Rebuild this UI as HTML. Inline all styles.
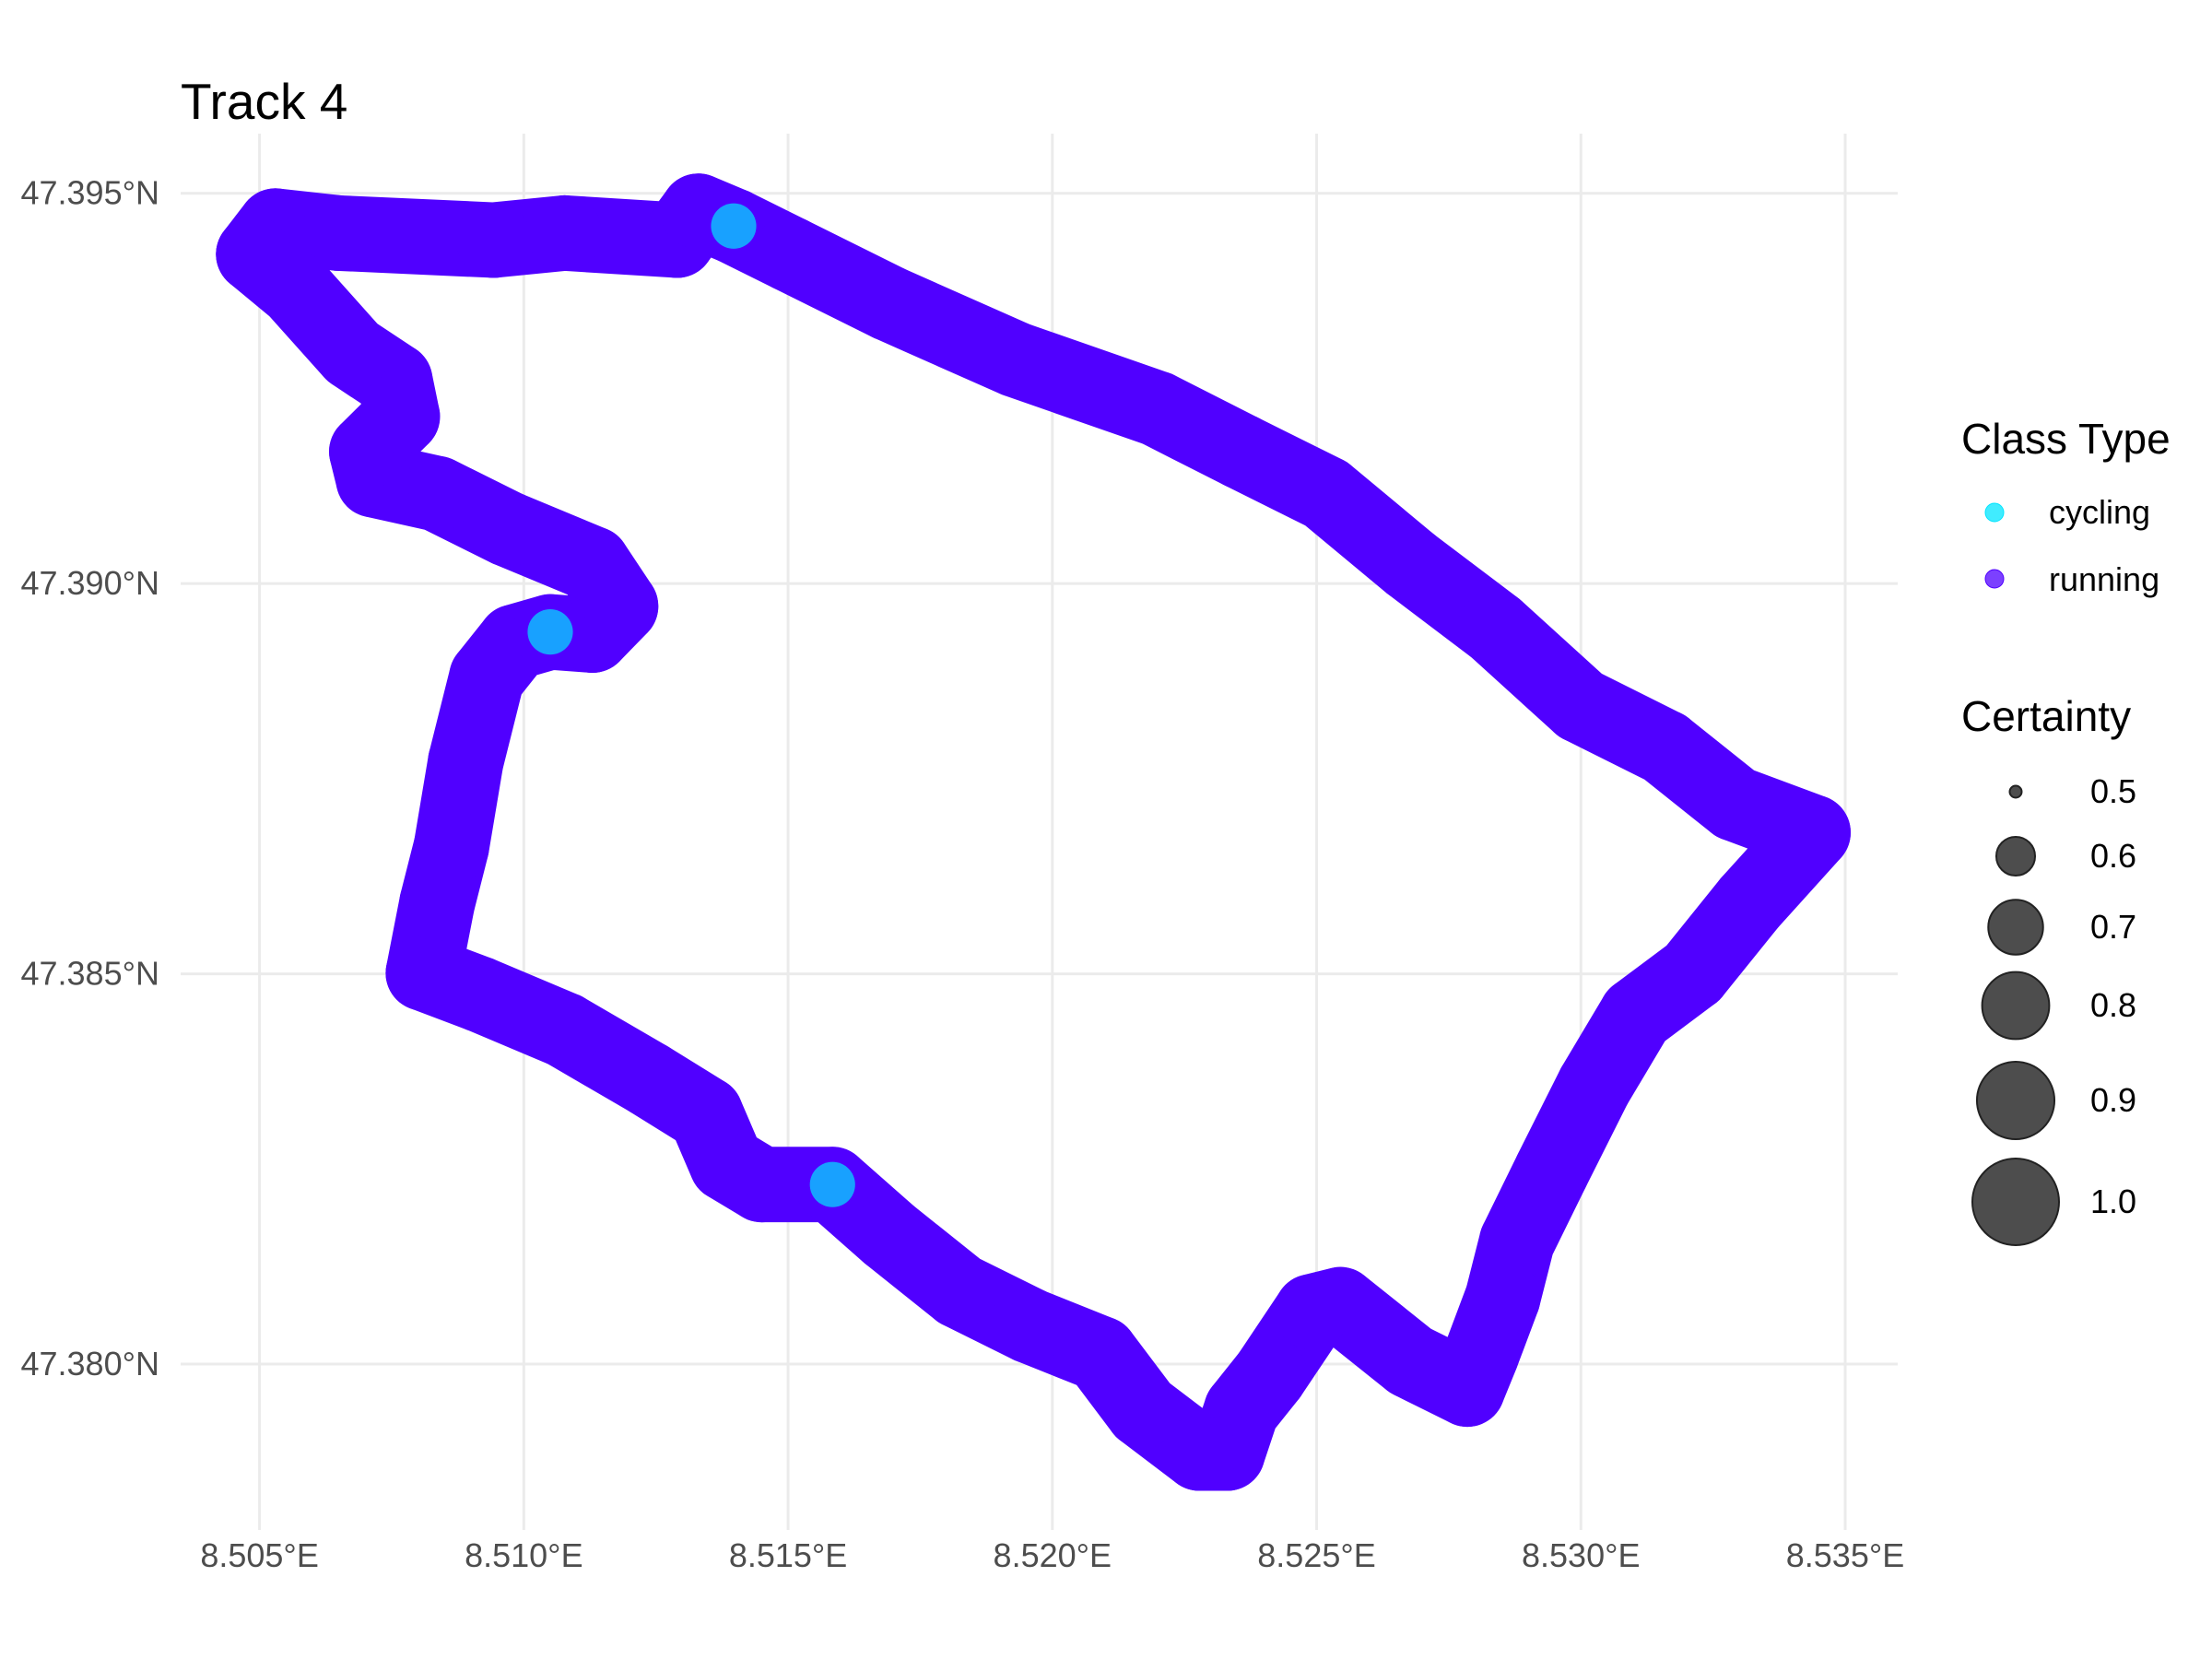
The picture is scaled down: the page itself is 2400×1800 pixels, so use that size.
<!DOCTYPE html>
<html><head><meta charset="utf-8"><style>
html,body{margin:0;padding:0;background:#fff;}
svg{display:block;font-family:"Liberation Sans",sans-serif;}
</style></head><body>
<svg id="chart" width="2400" height="1800" viewBox="0 0 2400 1800">
<rect width="2400" height="1800" fill="#fff"/>
<text x="196" y="129" font-size="55" fill="#000">Track 4</text>
<g id="grid"></g>
<g id="marks"></g>
<g id="axes"></g>
<g id="legend">
<text x="2128" y="492" font-size="46" fill="#000">Class Type</text>
<circle cx="2164" cy="556" r="10" fill="#00E5FF" fill-opacity="0.75" stroke="#00E5FF"/>
<text x="2223" y="568" font-size="36" fill="#000">cycling</text>
<circle cx="2164" cy="628" r="10" fill="#5000FF" fill-opacity="0.75" stroke="#5000FF"/>
<text x="2223" y="641" font-size="36" fill="#000">running</text>
<text x="2128" y="793" font-size="46" fill="#000">Certainty</text>
<g id="sizeLegend"></g>
</g>
</svg>
<script>
const lons=[8.50489,8.50530,8.50649,8.50943,8.51077,8.51290,8.51330,8.51397,8.51504,8.51691,8.51931,8.52198,8.52358,8.52518,8.52678,8.52838,8.52999,8.53159,8.53292,8.53439,8.53319,8.53212,8.53105,8.53025,8.52945,8.52879,8.52852,8.52812,8.52785,8.52678,8.52545,8.52491,8.52411,8.52358,8.52331,8.52278,8.52171,8.52091,8.51958,8.51824,8.51691,8.51584,8.51450,8.51384,8.51344,8.51237,8.51077,8.50916,8.50810,8.50836,8.50863,8.50890,8.50930,8.50983,8.51050,8.51130,8.51183,8.51130,8.50970,8.50836,8.50716,8.50703,8.50770,8.50756,8.50676,8.50569,8.50489];
const lats=[47.39422,47.39458,47.39449,47.39440,47.39449,47.39440,47.39477,47.39458,47.39422,47.39359,47.39287,47.39224,47.39169,47.39115,47.39025,47.38943,47.38844,47.38790,47.38718,47.38681,47.38591,47.38501,47.38447,47.38356,47.38248,47.38157,47.38085,47.38013,47.37968,47.38004,47.38076,47.38067,47.37986,47.37941,47.37886,47.37886,47.37941,47.38013,47.38049,47.38094,47.38166,47.38230,47.38230,47.38257,47.38320,47.38365,47.38428,47.38474,47.38501,47.38591,47.38663,47.38772,47.38880,47.38925,47.38938,47.38934,47.38971,47.39025,47.39070,47.39115,47.39133,47.39169,47.39214,47.39260,47.39296,47.39377,47.39422];
const cyclingIdx=[7,41,54];
const certainty=0.88;
const xTicks=[8.505,8.510,8.515,8.520,8.525,8.530,8.535];
const xTickLabels=["8.505°E","8.510°E","8.515°E","8.520°E","8.525°E","8.530°E","8.535°E"];
const yTicks=[47.395,47.390,47.385,47.380];
const yTickLabels=["47.395°N","47.390°N","47.385°N","47.380°N"];
const sizeLevels=[0.5,0.6,0.7,0.8,0.9,1.0];
const sizeLabels=["0.5","0.6","0.7","0.8","0.9","1.0"];

const NS="http://www.w3.org/2000/svg";
function xs(v){return 281.6+(v-8.505)/0.030*(2002-281.6);}
function ys(v){return 209.7+(47.395-v)/0.015*(1480-209.7);}
function rs(c){return Math.max(6.5,47*Math.sqrt((c-0.5)/0.5));}
function mk(tag,attrs,parent){const e=document.createElementNS(NS,tag);for(const k in attrs)e.setAttribute(k,attrs[k]);parent.appendChild(e);return e;}

const grid=document.getElementById('grid');
xTicks.forEach((t,i)=>{
  const l=mk('line',{x1:xs(t),x2:xs(t),y1:145,y2:1660,stroke:'#ebebeb','stroke-width':3},grid);
  
  
});
yTicks.forEach((t,i)=>{
  const l=mk('line',{x1:196,x2:2059,y1:ys(t),y2:ys(t),stroke:'#ebebeb','stroke-width':3},grid);
  
  
});
const axes=document.getElementById('axes');
xTicks.forEach((t,i)=>{
  const tx=mk('text',{x:xs(t),y:1700,'font-size':36,fill:'#4d4d4d','text-anchor':'middle'},axes);
  tx.textContent=xTickLabels[i];
  
  
});
yTicks.forEach((t,i)=>{
  const tx=mk('text',{x:173,y:ys(t)+12,'font-size':36,fill:'#4d4d4d','text-anchor':'end'},axes);
  tx.textContent=yTickLabels[i];
  
  
});

const marks=document.getElementById('marks');
const r=rs(certainty);
let d='';
lons.forEach((v,i)=>{d+=(i?'L':'M')+xs(v).toFixed(1)+' '+ys(lats[i]).toFixed(1);});
const path=mk('path',{d:d,fill:'none',stroke:'#5000FF','stroke-width':2*r,'stroke-linejoin':'round','stroke-linecap':'round'},marks);


lons.forEach((v,i)=>{
  const c=mk('circle',{cx:xs(v),cy:ys(lats[i]),r:r,fill:'#5000FF'},marks);
  
  
});
cyclingIdx.forEach(i=>{
  const c=mk('circle',{cx:xs(lons[i]),cy:ys(lats[i]),r:r*0.6,fill:'#00E5FF','fill-opacity':0.7},marks);
  
  
});

const sl=document.getElementById('sizeLegend');
const sy=[859,929,1006,1091,1194,1304];
sizeLevels.forEach((s,i)=>{
  const c=mk('circle',{cx:2187,cy:sy[i],r:rs(s),fill:'#4d4d4d',stroke:'#222','stroke-width':2},sl);
  
  
  const t=mk('text',{x:2268,y:sy[i]+12,'font-size':36,fill:'#000'},sl);
  t.textContent=sizeLabels[i];
  
  
});
</script>
</body></html>
